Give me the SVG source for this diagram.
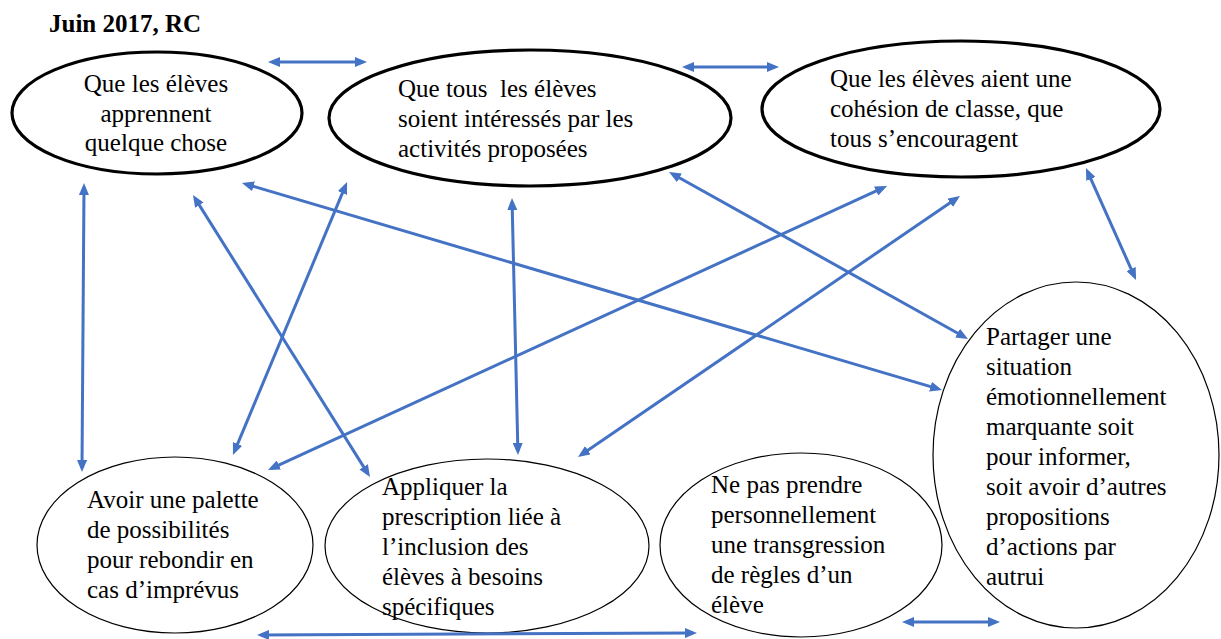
<svg xmlns="http://www.w3.org/2000/svg" width="1221" height="639" viewBox="0 0 1221 639">
<style>
text{font-family:"Liberation Serif","Times New Roman",serif;font-size:25px;fill:#000}
.title{font-weight:bold}
.thick{fill:#fff;stroke:#000;stroke-width:3.2}
.thin{fill:#fff;stroke:#000;stroke-width:1.2}
.c line{stroke:#4472C4;stroke-width:3;marker-start:url(#ah);marker-end:url(#ah)}
</style>
<defs>
<marker id="ah" markerUnits="userSpaceOnUse" markerWidth="12" markerHeight="10" refX="8" refY="5" orient="auto-start-reverse" viewBox="0 0 12 10">
<path d="M0,0 L12,5 L0,10 z" fill="#4472C4"/>
</marker>
</defs>
<rect width="1221" height="639" fill="#fff"/>
<text class="title" x="49" y="32">Juin 2017, RC</text>

<g id="n1">
<ellipse class="thick" cx="157" cy="113" rx="145" ry="61"/>
<text text-anchor="middle"><tspan x="156" y="92">Que les élèves</tspan><tspan x="156" y="122">apprennent</tspan><tspan x="156" y="151">quelque chose</tspan></text>
</g>
<g id="n2">
<ellipse class="thick" cx="530" cy="118" rx="201" ry="68"/>
<text><tspan x="398" y="97">Que tous &#160;les élèves</tspan><tspan x="398" y="127">soient intéressés par les</tspan><tspan x="398" y="157">activités proposées</tspan></text>
</g>
<g id="n3">
<ellipse class="thick" cx="961" cy="109" rx="199" ry="68"/>
<text><tspan x="830" y="87">Que les élèves aient une</tspan><tspan x="830" y="117">cohésion de classe, que</tspan><tspan x="830" y="147">tous s’encouragent</tspan></text>
</g>
<g id="n4">
<ellipse class="thin" cx="1076" cy="455" rx="143" ry="173"/>
<text><tspan x="986" y="345">Partager une</tspan><tspan x="986" y="375">situation</tspan><tspan x="986" y="405">émotionnellement</tspan><tspan x="986" y="435">marquante soit</tspan><tspan x="986" y="465">pour informer,</tspan><tspan x="986" y="495">soit avoir d’autres</tspan><tspan x="986" y="525">propositions</tspan><tspan x="986" y="555">d’actions par</tspan><tspan x="986" y="585">autrui</tspan></text>
</g>
<g id="n5">
<ellipse class="thin" cx="175" cy="545" rx="138" ry="88"/>
<text><tspan x="87" y="508">Avoir une palette</tspan><tspan x="87" y="538">de possibilités</tspan><tspan x="87" y="568">pour rebondir en</tspan><tspan x="87" y="598">cas d’imprévus</tspan></text>
</g>
<g id="n6">
<ellipse class="thin" cx="487" cy="546" rx="162" ry="87"/>
<text><tspan x="382" y="495">Appliquer la</tspan><tspan x="382" y="525">prescription liée à</tspan><tspan x="382" y="555">l’inclusion des</tspan><tspan x="382" y="585">élèves à besoins</tspan><tspan x="382" y="615">spécifiques</tspan></text>
</g>
<g id="n7">
<ellipse class="thin" cx="801" cy="545" rx="141" ry="92"/>
<text><tspan x="711" y="493">Ne pas prendre</tspan><tspan x="711" y="523">personnellement</tspan><tspan x="711" y="553">une transgression</tspan><tspan x="711" y="583">de règles d’un</tspan><tspan x="711" y="613">élève</tspan></text>
</g>

<g id="connectors" class="c">
<line x1="272" y1="62" x2="363" y2="62"/>
<line x1="686" y1="67" x2="775" y2="67"/>
<line x1="84" y1="187" x2="82" y2="468"/>
<line x1="195.1" y1="198.4" x2="367.9" y2="473.6"/>
<line x1="345.5" y1="185.7" x2="234.5" y2="451.3"/>
<line x1="245.8" y1="184.1" x2="938.2" y2="388.9"/>
<line x1="512.1" y1="202" x2="517.9" y2="451"/>
<line x1="883.4" y1="187.7" x2="271.6" y2="468.3"/>
<line x1="956.7" y1="198.3" x2="581.3" y2="454.7"/>
<line x1="672.5" y1="174" x2="964.5" y2="337"/>
<line x1="1087.6" y1="171.7" x2="1134.4" y2="276.3"/>
<line x1="261" y1="635" x2="693" y2="633"/>
<line x1="906" y1="622" x2="996" y2="622"/>
</g>
</svg>
